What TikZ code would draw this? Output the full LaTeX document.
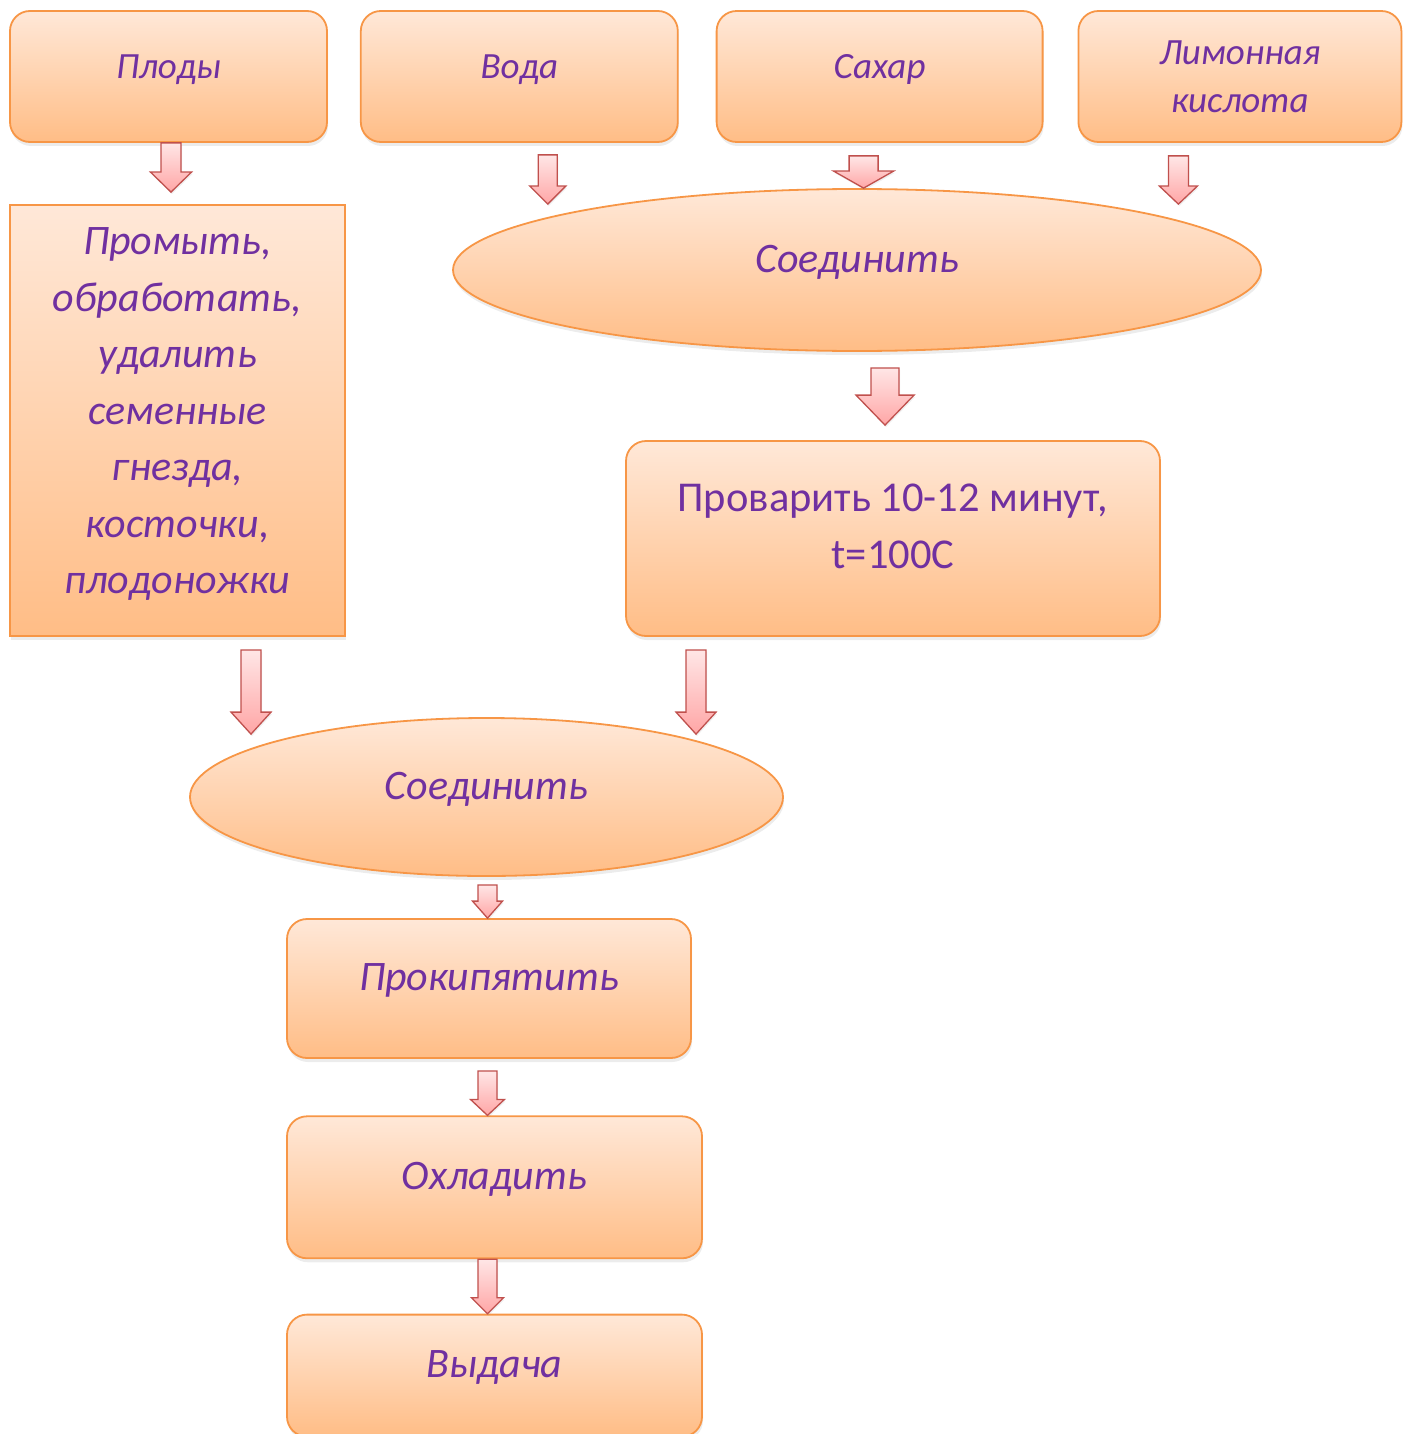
\documentclass[tikz,border=0pt]{standalone}
\usepackage{fontspec}
\setmainfont{Carlito}
\usetikzlibrary{shapes.geometric,positioning,calc,shadows}
\definecolor{peachtop}{HTML}{FFE8D8}
\definecolor{peachbot}{HTML}{FFBD86}
\definecolor{edge}{HTML}{F79646}
\definecolor{plum}{HTML}{7030A0}
\definecolor{pinktop}{HTML}{FFE6E6}
\definecolor{pinkbot}{HTML}{FFA6A6}
\definecolor{brick}{HTML}{C0504D}
\tikzset{stage/.style={rounded corners=20pt,draw=edge,line width=1.8pt,top color=peachtop,bottom color=peachbot,text=plum,align=center,inner sep=0pt,drop shadow={shadow xshift=1pt,shadow yshift=-4pt,opacity=.15}},sheet/.style={stage,sharp corners},oval/.style={stage,ellipse},oneline/.style={text height=10pt,text depth=6pt},fatarr/.style={draw=brick,line width=1.3pt,top color=pinktop,bottom color=pinkbot,drop shadow={shadow xshift=1pt,shadow yshift=-2pt,opacity=.12}}}
% block arrow: [head length]{start}{tip}{shaft half}{head half}
\newcommand\fatarrow[5][20]{\path[fatarr] let \p1=#2, \p2=#3 in (\x1-#4pt,\y1) -- (\x1+#4pt,\y1) -- (\x1+#4pt,\y2+#1pt) -- (\x1+#5pt,\y2+#1pt) -- (\x1,\y2) -- (\x1-#5pt,\y2+#1pt) -- (\x1-#4pt,\y2+#1pt) -- cycle;}
\newcommand\topfont{\fontsize{37}{48}\selectfont\itshape}
\newcommand\midfont{\fontsize{42}{56.5}\selectfont\itshape}

\begin{document}
\begin{tikzpicture}[x=1pt,y=-1pt]
\useasboundingbox (0,0) rectangle (1410,1434);
\clip (0,0) rectangle (1410,1434);
\node[stage,oneline,minimum width=317pt,minimum height=131pt,font=\topfont] (plody) at (168.5,76.5) {Плоды};
\node[stage,oneline,minimum width=317pt,minimum height=131pt,font=\topfont,right=32pt of plody] (voda) {Вода};
\node[stage,oneline,minimum width=326pt,minimum height=131pt,font=\topfont,right=37pt of voda] (sahar) {Сахар};
\node[stage,minimum width=323pt,minimum height=131pt,font=\topfont,right=34pt of sahar] (limon) {Лимонная\\кислота};
\node[sheet,minimum width=335pt,minimum height=431pt,text height=366pt,text depth=20pt,font=\midfont] (promyt) at (177.5,420.5) {Промыть,\\обработать,\\удалить\\семенные\\гнезда,\\косточки,\\плодоножки};
\node[oval,oneline,minimum width=808pt,minimum height=162pt,font=\midfont] (soed1) at (857,270) {Соединить};
\node[stage,minimum width=534pt,minimum height=195pt,text height=89pt,text depth=30pt,font=\fontsize{42.5}{57}\selectfont] (provar) at (893,538.5) {Проварить 10-12 минут,\\t=100C};
\node[oval,oneline,minimum width=593pt,minimum height=158pt,font=\midfont] (soed2) at (486.5,797) {Соединить};
\node[stage,oneline,minimum width=404pt,minimum height=139pt,font=\midfont] (prok) at (489,988.5) {Прокипятить};
\node[stage,oneline,minimum width=415pt,minimum height=142pt,font=\midfont,below right=56.5pt and 0pt of prok.south west] (ohlad) {Охладить};
\node[stage,oneline,minimum width=415pt,minimum height=122pt,font=\midfont,below right=54.5pt and 0pt of ohlad.south west] (vydacha) {Выдача};
% arrows
\fatarrow{($(plody.south)+(2.5,0)$)}{($(promyt.north)+(0,-12)$)}{10}{20.5}
\fatarrow[18]{($(voda.south)+(28.5,12)$)}{($(soed1.north)+(0,16)$)}{9.5}{18}
\fatarrow[17]{($(sahar.south)+(-16,13)$)}{(soed1.north)}{14.5}{30}
\fatarrow[18]{($(limon.south)+(-61.5,13)$)}{($(soed1.north)+(0,16)$)}{10}{19}
\fatarrow[30]{($(soed1.south)+(28,16)$)}{($(provar.north)+(0,-15)$)}{14}{29}
\fatarrow[22]{($(promyt.south)+(73.5,13)$)}{($(soed2.north)+(0,17)$)}{10}{20}
\fatarrow[22]{($(provar.south)+(-197,13)$)}{($(soed2.north)+(0,17)$)}{10}{20}
\fatarrow[17]{($(soed2.south)+(1,8)$)}{(prok.north)}{9.5}{15}
\fatarrow[16]{($(prok.south)+(-1.5,12)$)}{(ohlad.north)}{9.5}{17}
\fatarrow[16]{($(ohlad.south)+(-7,0)$)}{(vydacha.north)}{9.5}{16}
\end{tikzpicture}
\end{document}
